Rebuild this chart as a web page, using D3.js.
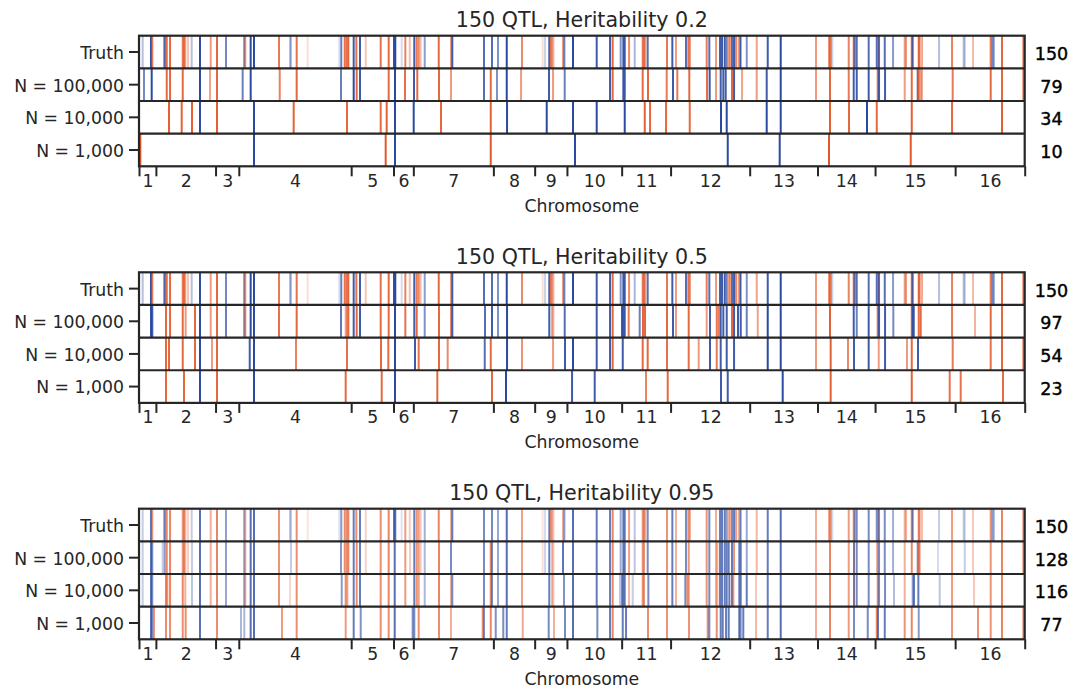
<!DOCTYPE html>
<html><head><meta charset="utf-8">
<script src="https://cdn.jsdelivr.net/npm/d3@7"></script>
<style>body{margin:0;background:#fff}svg{display:block}</style>
</head><body><svg id="c" width="1086" height="689"></svg>
<script>
// ---------- data ----------
const chromosomes = ["1","2","3","4","5","6","7","8","9","10","11","12","13","14","15","16"];
const chromLengthsMb = [0.230218,0.813184,0.316620,1.531933,0.576874,0.270161,1.090940,0.562643,0.439888,0.745751,0.666816,1.078177,0.924431,0.784333,1.091291,0.948066];
const rowLabels = ["Truth","N = 100,000","N = 10,000","N = 1,000"];
const titles = ["150 QTL, Heritability 0.2","150 QTL, Heritability 0.5","150 QTL, Heritability 0.95"];
const counts02 = [150,79,34,10];
const counts05 = [150,97,54,23];
const counts095 = [150,128,116,77];

// each entry: [cumulative genome position (Mb), signed effect (+ red, - blue)]
const truth = [[0.050,-0.35],[0.164,-1],[0.181,0.8],[0.341,-0.5],[0.354,-0.7],[0.378,0.9],[0.423,0.9],[0.596,0.8],[0.613,0.8],[0.631,0.6],[0.668,0.35],[0.718,-0.35],[0.831,-1],[0.977,0.6],[1.063,0.9],[1.186,-0.65],[1.435,-0.7],[1.449,0.6],[1.522,-1],[1.567,-1],[1.908,0.8],[2.058,-0.35],[2.072,-0.35],[2.149,0.85],[2.299,0.2],[2.730,-0.2],[2.757,-0.7],[2.804,0.85],[2.831,0.85],[2.853,0.9],[2.926,-0.9],[2.962,0.85],[3.012,-0.9],[3.090,0.35],[3.294,0.85],[3.403,0.9],[3.476,-1],[3.493,-1],[3.580,-0.2],[3.630,0.75],[3.690,0.4],[3.752,-0.9],[3.785,0.8],[3.812,0.7],[3.839,0.4],[3.894,-0.55],[4.085,0.9],
[4.252,0.6],[4.270,-0.9],[4.702,-0.8],[4.811,-0.8],[4.893,-0.6],[5.012,-1],[5.220,0.7],[5.502,0.2],[5.534,-0.25],[5.592,-0.9],[5.611,0.8],[5.629,0.5],[5.647,0.5],[5.779,0.6],[5.797,-0.7],[5.915,-1],[6.238,-0.9],[6.420,-0.9],[6.456,0.9],[6.565,-0.6],[6.601,-0.9],[6.620,-0.9],[6.679,0.7],[6.756,-0.4],[6.865,0.8],[6.883,0.8],[6.901,0.6],[6.933,-0.8],[7.196,0.8],[7.269,-0.9],[7.319,0.6],[7.455,-0.8],[7.487,0.8],[7.506,0.8],[7.737,0.8],[7.773,-0.8],[7.864,0.6],[7.919,-0.9],[7.946,-0.9],[7.983,-0.9],[8.010,-0.7],[8.037,0.6],[8.055,0.6],[8.082,-0.8],[8.110,-0.9],[8.137,0.7],[8.174,0.6],
[8.198,-0.9],[8.283,-0.6],[8.419,0.55],[8.569,-0.9],[8.746,-1],[9.227,0.6],[9.408,0.9],[9.427,0.8],[9.449,-0.25],[9.673,0.75],[9.741,0.9],[9.755,-0.7],[9.782,-0.8],[9.945,-0.8],[10.055,-0.8],[10.072,0.8],[10.086,-0.8],[10.164,-0.8],[10.277,-0.55],[10.436,0.6],[10.454,0.6],[10.532,0.9],[10.545,-0.8],[10.627,0.9],[10.640,0.7],[10.672,0.5],[10.904,-0.35],[11.081,0.75],[11.240,-0.35],[11.254,-0.3],[11.367,0.4],[11.608,0.8],[11.630,-0.6],[11.649,-0.6],[11.762,0.9],[12.053,0.8]];

const h02_100k = [[0.068,-0.65],[0.173,-1],[0.378,0.9],[0.423,0.9],[0.596,0.9],[0.831,-1],[0.968,0.55],[1.063,0.9],[1.413,-0.7],[1.522,-1],[1.918,0.75],[2.149,0.9],[2.753,-0.7],[2.926,-1],[2.967,0.9],[3.012,-0.9],[3.403,0.9],[3.489,-1],[3.625,0.85],[3.748,-0.9],[3.793,0.9],[4.089,0.9],[4.252,0.6],[4.702,-0.8],[4.794,0.9],[4.879,-0.6],[5.012,-1],[5.207,0.6],[5.588,-0.9],[5.643,0.6],[5.802,-0.7],[6.420,-0.9],[6.456,0.9],[6.601,-0.9],[6.620,-0.9],[6.865,0.9],[6.937,0.9],[7.192,0.8],[7.278,-0.9],[7.337,0.8],[7.500,0.9],[7.742,0.9],[7.778,-0.9],[7.864,0.6],[7.928,-0.9],[7.964,-0.9],[7.996,-0.9],[8.082,0.9],[8.110,-0.9],[8.219,0.55],[8.419,0.6],[8.555,-0.9],[8.746,-1],[9.227,0.6],[9.418,0.9],[9.673,0.8],[9.741,-0.9],[9.782,-0.9],[9.945,-0.9],[10.068,0.9],[10.086,-0.9],[10.168,-0.9],[10.436,0.6],[10.532,0.9],[10.613,-0.8],[10.627,0.9],[10.654,0.6],[10.672,0.5],[11.090,0.8],[11.608,0.9],[11.762,0.9],[12.053,0.8]];
const h02_10k = [[0.409,0.95],[0.582,0.95],[0.722,0.95],[0.831,-1],[1.063,0.95],[1.567,-1],[2.108,0.95],[2.835,0.9],[3.294,0.9],[3.376,0.95],[3.489,-1],[3.744,-1],[4.116,0.9],[4.794,0.95],[5.016,-1],[5.557,-1],[5.915,-1],[6.238,-1],[6.620,-1],[6.893,0.95],[6.965,0.9],[7.183,0.9],[7.506,0.9],[7.932,-1],[8.010,-1],[8.555,-1],[8.746,-1],[9.418,0.95],[9.677,0.9],[9.922,-1],[10.055,0.9],[10.532,0.95],[11.081,0.9],[11.762,0.95]];
const h02_1k = [[0.018,1],[1.567,-1],[3.362,1],[3.489,-1],[4.794,1],[5.942,-1],[8.024,-1],[8.732,-1],[9.404,1],[10.518,1]];

const h05_100k = [[0.164,-1],[0.181,-0.9],[0.368,0.9],[0.423,0.9],[0.596,0.9],[0.636,0.6],[0.763,0.9],[0.831,-1],[0.977,0.6],[1.063,0.9],[1.186,-0.7],[1.435,-0.7],[1.449,0.7],[1.522,-1],[1.567,-1],[1.908,0.85],[2.149,0.9],[2.753,-0.75],[2.817,0.55],[2.835,0.6],[2.853,0.9],[2.926,-0.9],[2.967,0.9],[3.012,-0.9],[3.294,0.9],[3.403,0.9],[3.489,-1],[3.630,0.85],[3.752,-0.9],[3.785,0.9],[3.894,-0.6],[4.089,0.9],[4.252,0.7],[4.270,-0.9],[4.716,-0.8],[4.811,-0.9],[4.893,-0.6],[5.016,-1],[5.592,-0.9],[5.629,0.5],[5.647,0.5],[5.802,-0.8],[6.238,-0.9],[6.420,-0.9],[6.456,0.9],[6.583,-0.9],[6.601,-0.9],[6.620,-0.9],[6.674,0.8],[6.824,-0.7],[6.869,0.9],[6.896,0.9],[7.196,0.9],[7.278,-0.9],[7.319,0.6],[7.492,0.9],[7.737,0.6],[7.782,-0.9],[7.874,0.8],[7.901,0.8],[7.928,-0.9],[7.964,-0.9],[8.010,-0.9],[8.082,0.9],[8.110,-0.9],[8.164,-0.9],[8.201,-0.9],[8.283,-0.7],[8.433,0.55],[8.569,-1],[8.746,-1],[9.227,0.6],[9.418,0.95],[9.741,-0.9],[9.782,-0.7],[9.945,-0.9],[10.068,0.9],[10.086,-0.9],[10.168,-0.9],[10.281,-0.65],[10.532,0.9],[10.545,-0.9],[10.559,-0.9],[10.627,0.9],[10.654,0.9],[11.081,0.8],[11.394,0.45],[11.608,0.9],[11.762,0.9]];
const h05_10k = [[0.368,0.9],[0.409,0.9],[0.596,0.9],[0.763,0.9],[0.831,-1],[0.995,0.6],[1.063,0.9],[1.509,-0.9],[1.567,-1],[2.140,0.75],[2.835,0.85],[3.298,0.9],[3.398,0.9],[3.489,-1],[3.762,-0.9],[3.812,0.85],[4.089,0.9],[4.207,0.7],[4.712,-0.8],[4.794,0.9],[5.016,-1],[5.220,0.65],[5.643,0.6],[5.806,-0.9],[5.915,-1],[6.238,-0.9],[6.420,-0.9],[6.456,0.9],[6.593,-0.9],[6.865,0.9],[6.933,0.9],[7.196,0.85],[7.492,0.85],[7.628,0.6],[7.782,-0.9],[7.874,0.8],[7.928,-0.9],[8.010,-0.9],[8.110,-0.9],[8.569,-1],[8.746,-1],[9.227,0.6],[9.427,0.95],[9.663,0.7],[9.745,-0.9],[9.945,-0.9],[10.082,0.6],[10.168,-0.9],[10.467,0.6],[10.532,0.9],[10.617,-0.9],[11.090,0.8],[11.608,0.85],[11.762,0.9],[12.053,0.8]];
const h05_1k = [[0.368,0.9],[0.613,0.9],[0.831,-1],[1.063,0.9],[1.567,-1],[2.817,0.9],[3.308,0.9],[3.489,-1],[4.066,0.9],[4.811,0.9],[5.002,-1],[5.902,-0.9],[6.211,-0.9],[6.910,0.75],[7.206,0.9],[7.932,-0.9],[8.024,-0.9],[8.773,-1],[9.427,0.95],[10.532,0.95],[11.049,0.85],[11.199,0.85],[11.776,0.9]];

const h095_100k = [[0.050,-0.35],[0.164,-1],[0.181,-0.8],[0.323,-0.35],[0.350,-0.7],[0.378,0.9],[0.423,0.9],[0.596,0.8],[0.613,0.8],[0.631,0.6],[0.668,0.35],[0.722,-0.35],[0.831,-1],[0.977,0.6],[1.063,0.9],[1.186,-0.65],[1.435,-0.7],[1.449,0.6],[1.522,-1],[1.567,-1],[1.908,0.8],[2.072,-0.35],[2.149,0.85],[2.753,-0.7],[2.804,0.85],[2.831,0.85],[2.853,0.9],[2.926,-0.9],[2.967,0.85],[3.012,-0.9],[3.090,0.35],[3.294,0.85],[3.403,0.9],[3.485,-1],[3.630,0.75],[3.694,0.4],[3.752,-0.9],[3.785,0.8],[3.812,0.7],[3.839,0.4],[3.894,-0.5],
[4.089,0.9],[4.252,-0.8],[4.702,-0.8],[4.794,0.9],[4.811,-0.8],[4.893,-0.6],[5.012,-1],[5.220,0.7],[5.502,0.25],[5.534,-0.3],[5.592,-0.9],[5.629,0.5],[5.647,0.5],[5.779,-0.95],[5.915,-1],[6.238,-0.9],[6.420,-0.9],[6.456,0.9],[6.565,-0.6],[6.601,-0.9],[6.620,-0.9],[6.679,0.7],[6.756,-0.4],[6.865,0.8],[6.883,0.8],[6.933,-0.8],[7.196,0.8],[7.269,-0.9],[7.319,0.6],[7.455,-0.8],[7.492,0.8],[7.737,0.8],[7.773,-0.8],[7.864,0.6],[7.882,0.6],[7.919,-0.9],[7.946,-0.9],[7.983,-0.9],[8.010,-0.9],[8.037,-0.9],[8.082,-0.9],[8.110,0.8],
[8.182,-0.9],[8.201,-0.9],[8.283,-0.6],[8.419,0.55],[8.569,-0.9],[8.746,-1],[9.227,0.6],[9.418,0.9],[9.673,0.75],[9.745,0.7],[9.745,-0.7],[9.782,-0.8],[9.945,-0.8],[10.063,0.9],[10.086,-0.8],[10.164,-0.8],[10.277,-0.55],[10.436,0.6],[10.532,0.9],[10.613,-0.8],[10.627,0.9],[10.640,0.7],[10.890,-0.25],[11.081,0.75],[11.254,-0.35],[11.367,0.4],[11.608,0.8],[11.762,0.9],[12.053,0.8]];
const h095_10k = [[0.050,-0.35],[0.164,-1],[0.181,-0.8],[0.368,0.9],[0.386,0.8],[0.423,0.9],[0.596,0.9],[0.631,0.6],[0.722,-0.4],[0.831,-1],[0.977,0.6],[1.063,0.9],[1.186,-0.6],[1.435,-0.7],[1.449,0.6],[1.522,-1],[1.567,-1],[1.908,0.8],[2.058,0.3],[2.149,0.85],[2.763,-0.7],[2.817,0.85],[2.839,0.7],[2.926,-0.9],[2.967,0.85],[3.012,-0.9],[3.294,0.85],[3.403,0.9],[3.485,-1],[3.630,0.75],[3.752,-0.9],[3.785,0.8],[3.812,0.7],[3.894,-0.5],
[4.089,0.9],[4.252,0.6],[4.270,-0.8],[4.702,-0.8],[4.794,0.9],[4.811,-0.8],[4.893,-0.6],[5.012,-1],[5.220,0.7],[5.592,-0.9],[5.629,0.5],[5.647,0.5],[5.792,-0.75],[5.915,-1],[6.238,-0.9],[6.420,-0.9],[6.456,0.9],[6.556,-0.4],[6.583,-0.8],[6.601,-0.9],[6.620,-0.9],[6.679,0.55],[6.729,-0.35],[6.865,0.8],[6.883,0.8],[6.942,-0.8],[7.196,0.8],[7.269,-0.9],[7.319,0.6],[7.446,-0.8],[7.473,0.8],[7.492,0.8],[7.737,0.8],[7.773,-0.8],[7.864,0.6],[7.882,0.6],[7.919,-0.9],[7.946,-0.9],[7.983,-0.9],[8.010,-0.9],[8.046,-0.9],[8.082,-0.9],[8.100,0.8],
[8.182,-0.9],[8.201,-0.9],[8.283,-0.9],[8.410,0.4],[8.569,-0.9],[8.746,-1],[9.227,0.6],[9.418,0.9],[9.673,0.75],[9.745,0.7],[9.745,-0.7],[9.782,-0.8],[9.945,-0.8],[10.068,0.9],[10.086,-0.8],[10.168,-0.8],[10.290,-0.45],[10.436,0.6],[10.545,-0.7],[10.563,-0.9],[10.622,-0.9],[10.913,-0.4],[11.081,0.75],[11.381,0.4],[11.608,0.8],[11.762,0.9]];
const h095_1k = [[0.164,-1],[0.181,-0.8],[0.204,0.8],[0.368,0.85],[0.423,0.85],[0.596,0.85],[0.636,0.85],[0.831,-1],[1.063,0.85],[1.390,-0.5],[1.435,-0.5],[1.522,-1],[1.567,-1],[1.949,0.75],[2.149,0.85],[2.817,0.75],[2.926,-0.9],[3.022,-0.75],[3.294,0.85],[3.403,0.85],[3.485,-1],[3.730,-0.8],[3.752,-0.8],[3.812,0.85],
[4.089,0.85],[4.252,0.6],[4.684,0.85],[4.702,-0.8],[4.794,0.9],[4.862,-0.75],[4.965,-0.8],[5.012,-0.9],[5.230,0.65],[5.584,-0.8],[5.656,0.6],[5.806,-0.8],[5.915,-1],[6.247,-0.8],[6.420,-0.9],[6.456,0.9],[6.593,-0.9],[6.638,-0.9],[6.937,0.85],[7.196,0.8],[7.496,0.8],[7.751,0.85],[7.773,-0.8],[7.874,0.85],[7.928,-0.9],[7.956,-0.9],[8.001,-0.9],[8.037,-0.9],
[8.182,-1],[8.201,-0.7],[8.236,-0.9],[8.410,0.55],[8.569,-0.9],[8.746,-1],[9.227,0.6],[9.418,0.9],[9.673,0.75],[9.745,-0.8],[9.932,-0.8],[10.055,0.9],[10.072,-0.9],[10.164,-0.9],[10.436,0.8],[10.532,0.9],[10.627,-0.7],[11.081,0.8],[11.435,0.8],[11.608,0.8],[11.762,0.9],[12.053,0.8]];

// ---------- drawing ----------
const FONT = "'DejaVu Sans', sans-serif";
const INK = "#262626";
const RED = "#e3582a", BLUE = "#2a4aa2";
const panels = [
  {title: titles[0], rows: [truth, h02_100k, h02_10k, h02_1k], counts: counts02, alpha: 1},
  {title: titles[1], rows: [truth, h05_100k, h05_10k, h05_1k], counts: counts05, alpha: 1},
  {title: titles[2], rows: [truth, h095_100k, h095_10k, h095_1k], counts: counts095, alpha: 0.8}
];
const svg = d3.select("#c");
const X0 = 139, X1 = 1024.7;
const bounds = [0, ...d3.cumsum(chromLengthsMb)];
const x = d3.scaleLinear().domain([0, bounds[bounds.length-1]]).range([X0, X1]);
const mids = chromosomes.map((c,i) => (bounds[i] + bounds[i+1]) / 2);
const panelTops = [35.7, 272.3, 508.7];
const panelH = 130.6;
const xc = (X0 + X1) / 2;

panels.forEach((p, pi) => {
  const g = svg.append("g").attr("transform", `translate(0,${panelTops[pi]})`);
  const y = d3.scaleBand().domain(rowLabels).range([0, panelH]);

  p.rows.forEach((row, ri) => {
    const y0 = y(rowLabels[ri]);
    g.append("g").selectAll("line").data(row).join("line")
      .attr("x1", d => x(d[0])).attr("x2", d => x(d[0]))
      .attr("y1", y0).attr("y2", y0 + y.bandwidth())
      .attr("stroke", d => d[1] > 0 ? RED : BLUE)
      .attr("stroke-opacity", d => Math.abs(d[1]) * p.alpha)
      .attr("stroke-width", 2);
  });

  rowLabels.slice(1).forEach(l => {
    g.append("line").attr("x1", X0).attr("x2", X1).attr("y1", y(l)).attr("y2", y(l))
      .attr("stroke", INK).attr("stroke-width", 2.2);
  });
  g.append("rect").attr("x", X0).attr("y", 0).attr("width", X1 - X0).attr("height", panelH)
    .attr("fill", "none").attr("stroke", INK).attr("stroke-width", 2.2);

  // y axis
  const ya = g.append("g").attr("transform", `translate(${X0},0)`)
    .call(d3.axisLeft(y).tickSize(10).tickPadding(5));
  ya.select(".domain").remove();
  ya.selectAll(".tick line").attr("stroke", INK).attr("stroke-width", 2);
  ya.selectAll(".tick text").attr("font-family", FONT).attr("font-size", 17.3).attr("fill", INK).attr("dy", "0.4em");

  // x axis: chromosome boundaries
  const xa = g.append("g").attr("transform", `translate(0,${panelH})`)
    .call(d3.axisBottom(x).tickValues(bounds).tickSize(10).tickFormat(""));
  xa.select(".domain").remove();
  xa.selectAll(".tick line").attr("stroke", INK).attr("stroke-width", 2);

  // x axis labels at chromosome midpoints
  const xl = g.append("g").attr("transform", `translate(0,${panelH})`)
    .call(d3.axisBottom(x).tickValues(mids).tickSize(0).tickPadding(8.3).tickFormat((d, i) => chromosomes[i]));
  xl.select(".domain").remove();
  xl.selectAll(".tick text").attr("font-family", FONT).attr("font-size", 17.3).attr("fill", INK);

  g.append("text").attr("x", xc).attr("y", panelH + 45.4).attr("text-anchor", "middle")
    .attr("font-family", FONT).attr("font-size", 17.3).attr("fill", INK).text("Chromosome");

  g.append("text").attr("x", xc).attr("y", -8.4).attr("text-anchor", "middle")
    .attr("font-family", FONT).attr("font-size", 20.6).attr("fill", INK).text(p.title);

  g.selectAll(".count").data(p.counts).join("text").attr("class", "count")
    .attr("x", 1051.5).attr("y", (d, i) => y(rowLabels[i]) + y.bandwidth() / 2 + 8)
    .attr("text-anchor", "middle").attr("font-family", FONT).attr("font-size", 17.5)
    .attr("fill", "#000").attr("stroke", "#000").attr("stroke-width", 0.4)
    .text(d => d);
});
</script>
</body></html>
